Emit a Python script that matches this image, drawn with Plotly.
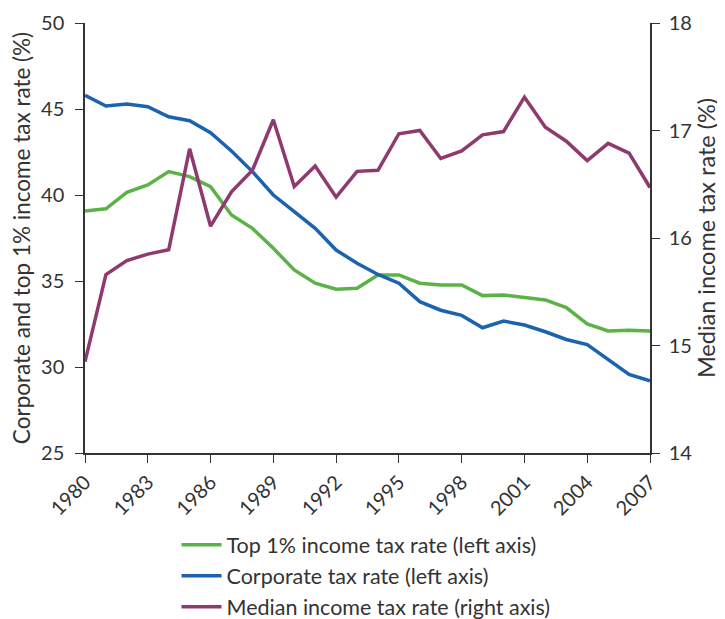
import plotly.graph_objects as go

years = list(range(1980, 2008))
top1_rate = [39.07, 39.2, 40.15, 40.58, 41.36, 41.07, 40.48, 38.84, 38.06, 36.9,
             35.64, 34.87, 34.52, 34.58, 35.35, 35.35, 34.87, 34.77, 34.77, 34.15,
             34.19, 34.05, 33.9, 33.45, 32.5, 32.1, 32.13, 32.1]
corporate_rate = [45.8, 45.17, 45.29, 45.13, 44.55, 44.32, 43.62, 42.56, 41.36, 40.0,
                  39.03, 38.06, 36.8, 36.03, 35.38, 34.87, 33.8, 33.3, 33.0, 32.28,
                  32.67, 32.44, 32.05, 31.6, 31.3, 30.45, 29.57, 29.19]
median_rate = [14.85, 15.66, 15.79, 15.85, 15.89, 16.83, 16.11, 16.43, 16.63, 17.10,
               16.48, 16.67, 16.38, 16.62, 16.63, 16.97, 17.0, 16.74, 16.81, 16.96,
               16.99, 17.31, 17.03, 16.90, 16.72, 16.88, 16.79, 16.47]
xtick_vals = list(range(1980, 2008, 3))

FONT = "Lato"
TXT = "#333"
fig = go.Figure()
fig.add_trace(go.Scatter(x=years, y=top1_rate, mode="lines", name="Top 1% income tax rate (left axis)",
                         line=dict(color="#5DB247", width=3.5)))
fig.add_trace(go.Scatter(x=years, y=corporate_rate, mode="lines", name="Corporate tax rate (left axis)",
                         line=dict(color="#1B63AE", width=3.5)))
fig.add_trace(go.Scatter(x=years, y=median_rate, mode="lines", name="Median income tax rate (right axis)",
                         line=dict(color="#8E3A6F", width=3.5), yaxis="y2"))

axis_common = dict(showgrid=False, zeroline=False, showline=True, linecolor="#333", linewidth=1.5,
                   ticks="outside", ticklen=8, tickcolor="#333", automargin=False,
                   tickfont=dict(size=20, color=TXT, family=FONT))
fig.update_layout(
    width=717, height=611,
    margin=dict(l=77, r=75, t=15, b=166),
    plot_bgcolor="white", paper_bgcolor="white",
    font=dict(family=FONT, size=20, color=TXT),
    xaxis=dict(range=[1980, 2007], tickvals=xtick_vals, tickangle=-45, **axis_common),
    yaxis=dict(range=[25, 50], dtick=5, ticklabelstandoff=7,
               title=dict(text="Corporate and top 1% income tax rate (%)", font=dict(size=22.5), standoff=12),
               **axis_common),
    yaxis2=dict(range=[14, 18], dtick=1, overlaying="y", side="right", ticklabelstandoff=5,
                title=dict(text="Median income tax rate (%)", font=dict(size=23.5), standoff=2), **axis_common),
    legend=dict(orientation="v", x=0.162, xanchor="left", xref="paper",
                y=0.155, yanchor="top", yref="container",
                font=dict(size=21.5, family=FONT, color=TXT), tracegroupgap=0, itemwidth=40),
    showlegend=True,
)
fig.write_html("out.html")
